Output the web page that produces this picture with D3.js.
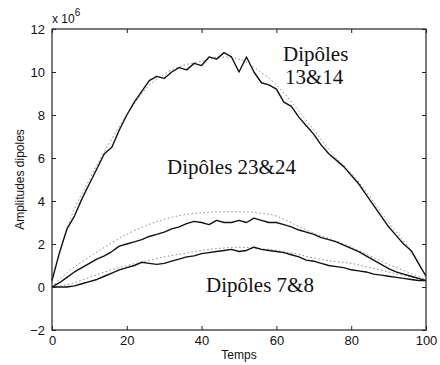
<!DOCTYPE html>
<html>
<head>
<meta charset="utf-8">
<script src="https://cdn.jsdelivr.net/npm/d3@7"></script>
<style>
  body { margin: 0; background: #fff; }
  svg { display: block; }
</style>
</head>
<body>
<div id="content"></div>
<script>
// data (amplitudes x 10^6)
const tSolid = d3.range(0, 101, 2);
const tDotted = d3.range(0, 101, 5);

const dip1314 = [0.3, 1.6, 2.7, 3.3, 4.1, 4.8, 5.5, 6.2, 6.5, 7.3, 8.0, 8.6, 9.1, 9.6, 9.8, 9.7, 10.0, 10.2, 10.1, 10.4,
  10.3, 10.7, 10.6, 10.9, 10.7, 10.0, 10.7, 10.0, 9.5, 9.4, 9.2, 8.6, 8.4, 7.9, 7.5, 7.1, 6.6, 6.2, 5.9, 5.6,
  5.2, 4.8, 4.3, 3.8, 3.3, 2.8, 2.4, 2.0, 1.7, 1.1, 0.5];
const dip1314Ref = [0.3, 3.2, 5.0, 6.6, 8.0, 9.2, 9.9, 10.3, 10.5, 10.7, 10.6, 10.1, 9.4, 8.4, 7.3, 6.2, 5.3, 4.2, 3.0, 1.9, 0.5];

const dip2324 = [0.0, 0.2, 0.45, 0.7, 0.9, 1.1, 1.3, 1.45, 1.65, 1.9, 2.0, 2.1, 2.2, 2.35, 2.45, 2.55, 2.7, 2.8, 2.95, 3.05,
  3.0, 2.9, 3.1, 3.0, 3.0, 3.1, 3.0, 3.2, 3.1, 3.0, 3.0, 2.9, 2.8, 2.65, 2.55, 2.45, 2.3, 2.2, 2.1, 1.95,
  1.8, 1.65, 1.45, 1.25, 1.05, 0.85, 0.7, 0.6, 0.5, 0.4, 0.3];
const dip2324Ref = [0.0, 0.8, 1.4, 1.95, 2.45, 2.85, 3.15, 3.35, 3.45, 3.5, 3.5, 3.45, 3.3, 2.9, 2.5, 2.2, 1.85, 1.45, 1.05, 0.7, 0.35];

const dip78 = [0, 0, 0, 0.05, 0.15, 0.25, 0.35, 0.5, 0.65, 0.8, 0.9, 1.0, 1.15, 1.1, 1.05, 1.1, 1.2, 1.3, 1.4, 1.45,
  1.55, 1.6, 1.65, 1.7, 1.75, 1.65, 1.7, 1.85, 1.75, 1.7, 1.65, 1.6, 1.5, 1.4, 1.25, 1.2, 1.1, 1.0, 0.95, 0.9,
  0.8, 0.75, 0.7, 0.6, 0.55, 0.5, 0.45, 0.4, 0.35, 0.3, 0.3];
const dip78Ref = [0, 0.15, 0.45, 0.75, 1.0, 1.2, 1.4, 1.55, 1.7, 1.8, 1.85, 1.8, 1.7, 1.55, 1.35, 1.2, 1.1, 0.9, 0.7, 0.5, 0.3];

const xTicks = [0, 20, 40, 60, 80, 100];
const yTicks = [-2, 0, 2, 4, 6, 8, 10, 12];

const width = 440, height = 365;
const margin = { top: 29, right: 14, bottom: 35, left: 52 };

const svg = d3.select('#content').append('svg')
  .attr('width', width)
  .attr('height', height)
  .style('font-family', '"Liberation Sans", Arial, sans-serif');

const x = d3.scaleLinear().domain([0, 100]).range([margin.left, width - margin.right]);
const y = d3.scaleLinear().domain([-2, 12]).range([height - margin.bottom, margin.top]);

// curves
const line = d3.line().x(d => x(d[0])).y(d => y(d[1]));
const pairs = (ts, vs) => ts.map((t, i) => [t, vs[i]]);

const dotted = [dip1314Ref, dip2324Ref, dip78Ref];
const solid = [dip1314, dip2324, dip78];

dotted.forEach(vs => {
  svg.append('path')
    .attr('d', line.curve(d3.curveMonotoneX)(pairs(tDotted, vs)))
    .attr('fill', 'none')
    .attr('stroke', '#8a8a8a')
    .attr('stroke-width', 1)
    .attr('stroke-dasharray', '1.5,2.5');
});
solid.forEach(vs => {
  svg.append('path')
    .attr('d', line.curve(d3.curveLinear)(pairs(tSolid, vs)))
    .attr('fill', 'none')
    .attr('stroke', '#111')
    .attr('stroke-width', 1.4)
    .attr('stroke-linejoin', 'round');
});

// box + inward ticks (matlab style)
const x0 = x(0), x1 = x(100), y0 = y(-2), y1 = y(12);
svg.append('rect')
  .attr('x', x0).attr('y', y1)
  .attr('width', x1 - x0).attr('height', y0 - y1)
  .attr('fill', 'none').attr('stroke', '#222').attr('stroke-width', 1.2);

const bottomAxis = d3.axisBottom(x).tickValues(xTicks).tickSize(-4).tickPadding(6).tickFormat(d3.format('d'));
const leftAxis = d3.axisLeft(y).tickValues(yTicks).tickSize(-4).tickPadding(7).tickFormat(d3.format('d'));
const topAxis = d3.axisTop(x).tickValues(xTicks).tickSize(-4).tickFormat('');
const rightAxis = d3.axisRight(y).tickValues(yTicks).tickSize(-4).tickFormat('');

const styleAxis = g => {
  g.select('.domain').remove();
  g.selectAll('line').attr('stroke', '#222');
  g.selectAll('text').attr('fill', '#111').style('font-size', '13px').style('font-family', '"Liberation Sans", Arial, sans-serif');
};

svg.append('g').attr('transform', `translate(0,${y0})`).call(bottomAxis).call(styleAxis);
svg.append('g').attr('transform', `translate(${x0},0)`).call(leftAxis).call(styleAxis);
svg.append('g').attr('transform', `translate(0,${y1})`).call(topAxis).call(styleAxis);
svg.append('g').attr('transform', `translate(${x1},0)`).call(rightAxis).call(styleAxis);

// exponent
const expo = svg.append('text').attr('x', x0).attr('y', 23).style('font-size', '12px').attr('fill', '#111');
expo.append('tspan').text('x 10');
expo.append('tspan').attr('dy', -7).style('font-size', '10px').text('6');

// axis titles
svg.append('text')
  .attr('x', (x0 + x1) / 2).attr('y', 359)
  .attr('text-anchor', 'middle').style('font-size', '12px').attr('fill', '#111')
  .text('Temps');
svg.append('text')
  .attr('transform', `translate(24,${(y0 + y1) / 2}) rotate(-90)`)
  .attr('text-anchor', 'middle').style('font-size', '12px').attr('fill', '#111')
  .text('Amplitudes dipoles');

// curve labels
const serif = '"Liberation Serif", "Times New Roman", serif';
const label = (tx, ty, s) => svg.append('text')
  .attr('x', tx).attr('y', ty)
  .style('font-family', serif).style('font-size', '21px').attr('fill', '#111')
  .text(s);
label(283, 61, 'Dipôles');
label(285, 84, '13&14');
label(167, 174, 'Dipôles 23&24');
label(206, 292, 'Dipôles 7&8');
</script>
</body>
</html>
